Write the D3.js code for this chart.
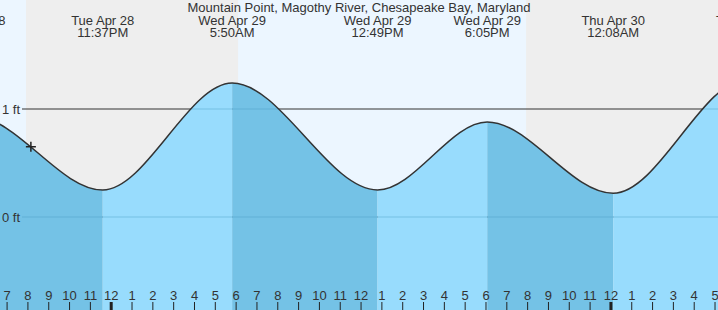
<!DOCTYPE html>
<html>
<head>
<meta charset="utf-8">
<script src="https://cdn.jsdelivr.net/npm/d3@7"></script>
<style>
  body { margin: 0; }
  svg { display: block; font-family: "Liberation Sans", Arial, sans-serif; }
</style>
</head>
<body>
<div id="chart"></div>
<script>
// station name
const title = "Mountain Point, Magothy River, Chesapeake Bay, Maryland";

// high / low tide predictions (first and last are off screen, they only shape the curve)
const tideTimes = ["2020-04-28 11:05", "2020-04-28 17:26", "2020-04-28 23:37", "2020-04-29 05:50",
    "2020-04-29 12:49", "2020-04-29 18:05", "2020-04-30 00:08", "2020-04-30 06:36", "2020-04-30 13:20"];
const tideHeights = [0.22, 0.93, 0.25, 1.24, 0.25, 0.88, 0.22, 1.28, 0.2];

// daylight periods
const sunrise = ["2020-04-28 06:08", "2020-04-29 06:07"];
const sunset = ["2020-04-28 19:56", "2020-04-29 19:57"];

// current time marker
const nowTime = "2020-04-28 20:10";
const nowHeight = 0.65;

// horizontal reference levels
const levels = [0, 1];
const levelLabels = ["0 ft", "1 ft"];

const viewStart = "2020-04-28 18:41", viewEnd = "2020-04-30 05:10";

const width = 718, height = 310;
const parse = d3.timeParse("%Y-%m-%d %H:%M");

const tides = tideTimes.map((t, i) => ({date: parse(t), h: tideHeights[i]}));

const x = d3.scaleTime()
    .domain([parse(viewStart), parse(viewEnd)])
    .range([0, width]);
const y = d3.scaleLinear()
    .domain([0, 1])
    .range([217, 109]);

const svg = d3.select("#chart").append("svg")
    .attr("width", width)
    .attr("height", height);

// night background, then day bands on top
svg.append("rect")
    .attr("width", width).attr("height", height)
    .attr("fill", "#eeeeee");

// day before the first sunset and after sunrise
const dayBands = [[parse(viewStart), parse(sunset[0])]];
sunrise.slice(1).forEach((s, i) => dayBands.push([parse(s), parse(sunset[i + 1])]));
svg.append("g")
    .selectAll("rect")
    .data(dayBands)
    .join("rect")
    .attr("x", d => x(d[0]))
    .attr("width", d => x(d[1]) - x(d[0]))
    .attr("y", 0)
    .attr("height", height)
    .attr("fill", "#ecf6ff");

// reference lines (dark part shows above the water)
svg.append("g")
    .selectAll("line")
    .data(levels)
    .join("line")
    .attr("x1", 22).attr("x2", width)
    .attr("y1", d => y(d)).attr("y2", d => y(d))
    .attr("stroke", "#333")
    .attr("stroke-width", 1.2);

// water area
const area = d3.area()
    .x(d => x(d.date))
    .y0(height)
    .y1(d => y(d.h))
    .curve(d3.curveMonotoneX);

const line = d3.line()
    .x(d => x(d.date))
    .y(d => y(d.h))
    .curve(d3.curveMonotoneX);

svg.append("clipPath")
    .attr("id", "water")
    .append("path")
    .attr("d", area(tides));

// falling tide darker, rising tide lighter
const segments = d3.pairs(tides);
svg.append("g")
    .attr("clip-path", "url(#water)")
    .selectAll("rect")
    .data(segments)
    .join("rect")
    .attr("x", d => x(d[0].date))
    .attr("width", d => x(d[1].date) - x(d[0].date))
    .attr("y", 0)
    .attr("height", height)
    .attr("fill", d => d[1].h < d[0].h ? "#74c2e6" : "#98dcfd");

// faint reference lines through the water
svg.append("g")
    .attr("clip-path", "url(#water)")
    .selectAll("line")
    .data(levels)
    .join("line")
    .attr("x1", 22).attr("x2", width)
    .attr("y1", d => y(d)).attr("y2", d => y(d))
    .attr("stroke", "#4a9cc4")
    .attr("stroke-opacity", 0.45)
    .attr("stroke-width", 1.2);

svg.append("path")
    .attr("d", line(tides))
    .attr("fill", "none")
    .attr("stroke", "#333")
    .attr("stroke-width", 1.5);

// level labels
svg.append("g")
    .selectAll("text")
    .data(levels)
    .join("text")
    .attr("x", 2)
    .attr("y", d => y(d) + 4.5)
    .attr("font-size", 13)
    .attr("fill", "#333")
    .text((d, i) => levelLabels[i]);

// current time cross
const nx = x(parse(nowTime)), ny = y(nowHeight);
svg.append("path")
    .attr("d", `M${nx - 5},${ny}H${nx + 5}M${nx},${ny - 5}V${ny + 5}`)
    .attr("stroke", "#222")
    .attr("stroke-width", 1.5);

// extreme labels
const fmtDay = d3.timeFormat("%a %b %-d");
const fmtTime = d3.timeFormat("%-I:%M%p");
const labels = svg.append("g")
    .selectAll("text")
    .data(tides)
    .join("text")
    .attr("x", d => x(d.date))
    .attr("text-anchor", "middle")
    .attr("font-size", 13)
    .attr("fill", "#333");
labels.append("tspan")
    .attr("x", d => x(d.date))
    .attr("y", 25)
    .text(d => fmtDay(d.date));
labels.append("tspan")
    .attr("x", d => x(d.date))
    .attr("y", 37)
    .text(d => fmtTime(d.date));

svg.append("text")
    .attr("x", 359)
    .attr("y", 12)
    .attr("text-anchor", "middle")
    .attr("font-size", 13)
    .attr("fill", "#333")
    .text(title);

// hour axis along the bottom
const axis = svg.append("g")
    .attr("transform", "translate(0,302)")
    .call(d3.axisBottom(x)
        .ticks(d3.timeHour.every(1))
        .tickSize(8)
        .tickFormat(d3.timeFormat("%-I")));
axis.select(".domain").remove();
axis.selectAll(".tick line")
    .attr("stroke", "#222")
    .attr("stroke-width", d => d.getHours() === 0 ? 3 : 1);
axis.selectAll(".tick text")
    .attr("y", -2.5)
    .attr("dy", 0)
    .attr("fill", "#333")
    .attr("font-size", 13)
    .attr("font-family", "Liberation Sans, Arial, sans-serif");
</script>
</body>
</html>
